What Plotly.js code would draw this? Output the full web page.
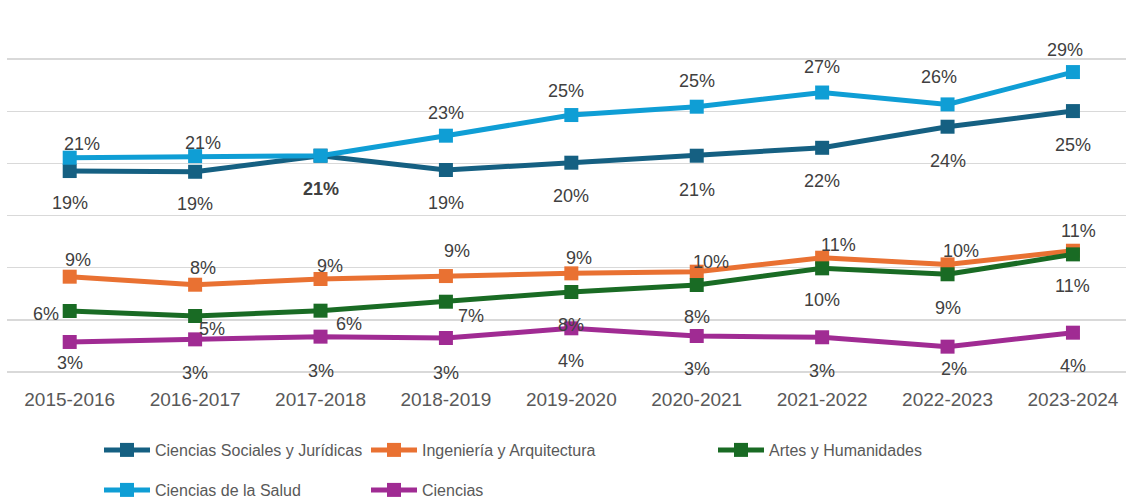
<!DOCTYPE html>
<html>
<head>
<meta charset="utf-8">
<script src="https://cdn.plot.ly/plotly-3.0.1.min.js"></script>
<style>html,body{margin:0;padding:0;background:#fff;overflow:hidden}#chart{width:1126px;height:503px}</style>
</head>
<body>
<div id="chart"></div>
<script>
// ---- data ----
const categories = ['2015-2016','2016-2017','2017-2018','2018-2019','2019-2020','2020-2021','2021-2022','2022-2023','2023-2024'];
const sociales   = [19.27, 19.20, 20.74, 19.37, 20.07, 20.74, 21.50, 23.52, 25.02];
const ingenieria = [9.14, 8.37, 8.92, 9.20, 9.46, 9.62, 10.96, 10.32, 11.63];
const artes      = [5.85, 5.37, 5.88, 6.74, 7.67, 8.34, 9.94, 9.37, 11.28];
const salud      = [20.55, 20.70, 20.74, 22.66, 24.64, 25.44, 26.80, 25.66, 28.76];
const ciencias   = [2.88, 3.13, 3.39, 3.26, 4.19, 3.45, 3.33, 2.43, 3.77];

const socLabels = ['19%','19%','21%','19%','20%','21%','22%','24%','25%'];
const ingLabels = ['9%','8%','9%','9%','9%','10%','11%','10%','11%'];
const artLabels = ['6%','5%','6%','7%','8%','8%','10%','9%','11%'];
const salLabels = ['21%','21%','','23%','25%','25%','27%','26%','29%'];
const cieLabels = ['3%','3%','3%','3%','4%','3%','3%','2%','4%'];

// ---- label placement (pixel offsets from the point: dx right, dy down) ----
const socOff = [[0,32],[0,32],[0,33],[0,33],[0,33],[0,34],[0,33],[0,34],[0,34]];
const ingOff = [[8,-17],[8,-17],[9,-13],[11,-25],[8,-15],[14,-10],[16,-13],[13,-13],[6,-20]];
const artOff = [[-24,3],[17,13],[28,13],[25,14],[0,33],[0,32],[0,32],[0,34],[0,32]];
const salOff = [[12,-13.5],[8,-13],[0,0],[0,-23],[-5,-24],[0,-26],[0,-26],[-9,-27],[-8,-22]];
const cieOff = [[0,21],[0,34],[0,34],[0,35],[0,33],[0,33],[0,34],[6,22],[0,33]];

const series = [
  {name:'Ciencias Sociales y Jurídicas', y:sociales, color:'#156082', labels:socLabels, off:socOff, legend:'legend', lw:206, bold:[2]},
  {name:'Ingeniería y Arquitectura', y:ingenieria, color:'#E97132', labels:ingLabels, off:ingOff, legend:'legend', lw:286},
  {name:'Artes y Humanidades', y:artes, color:'#196B24', labels:artLabels, off:artOff, legend:'legend'},
  {name:'Ciencias de la Salud', y:salud, color:'#0F9ED5', labels:salLabels, off:salOff, legend:'legend2', lw:206},
  {name:'Ciencias', y:ciencias, color:'#A02B93', labels:cieLabels, off:cieOff, legend:'legend2'}
];

const FONT = 'Liberation Sans, Arial, sans-serif';

const traces = series.map(s => {
  const t = {
    type:'scatter', mode:'lines+markers', name:s.name,
    x:categories, y:s.y,
    line:{color:s.color, width:5},
    marker:{symbol:'square', size:14, color:s.color},
    legend:s.legend, hoverinfo:'skip'
  };
  if (s.lw) t.legendwidth = s.lw;
  return t;
});

const annotations = [];
series.forEach(s => {
  s.labels.forEach((txt, i) => {
    if (!txt) return;
    const isBold = s.bold && s.bold.includes(i);
    annotations.push({
      x:categories[i], y:s.y[i], xref:'x', yref:'y',
      text: isBold ? '<b>'+txt+'</b>' : txt,
      showarrow:false, xanchor:'center', yanchor:'middle',
      xshift:s.off[i][0], yshift:-s.off[i][1],
      font:{family:FONT, size:18, color:'#404040'}
    });
  });
});

const legendCommon = {
  orientation:'h', xref:'container', yref:'container', xanchor:'left', yanchor:'top',
  font:{family:FONT, size:16, color:'#595959'}, itemwidth:46,
  bgcolor:'rgba(0,0,0,0)', borderwidth:0, itemclick:false, itemdoubleclick:false
};

const layout = {
  width:1126, height:503,
  margin:{l:7, r:0, t:7, b:131, pad:0},
  paper_bgcolor:'#ffffff', plot_bgcolor:'#ffffff',
  showlegend:true,
  xaxis:{
    type:'category', range:[-0.5, 8.423], showgrid:false, zeroline:false, showline:false,
    ticks:'', ticklabelstandoff:14,
    tickfont:{family:FONT, size:19, color:'#595959'}, fixedrange:true
  },
  yaxis:{
    range:[0,35], dtick:5, tick0:0, showticklabels:false, ticks:'',
    showgrid:true, gridcolor:'#d9d9d9', gridwidth:1.5,
    zeroline:true, zerolinecolor:'#d9d9d9', zerolinewidth:1.5, showline:false, fixedrange:true
  },
  legend:Object.assign({}, legendCommon, {x:99/1126, y:1-433/503}),
  legend2:Object.assign({}, legendCommon, {x:99/1126, y:1-473/503}),
  annotations:annotations
};

Plotly.newPlot('chart', traces, layout, {staticPlot:true, displayModeBar:false});
</script>
</body>
</html>
